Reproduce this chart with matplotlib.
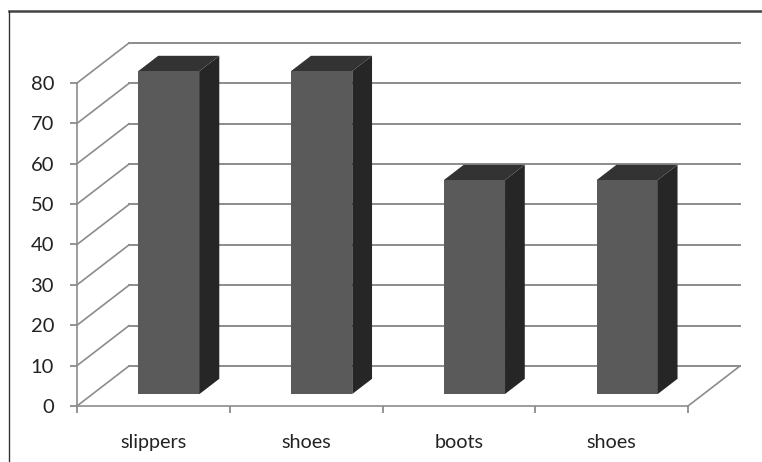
import matplotlib
matplotlib.use('Agg')
import matplotlib.pyplot as plt
from matplotlib.lines import Line2D

categories = ['slippers', 'shoes', 'boots', 'shoes']
values = [80, 80, 53, 53]
y_ticks = [0, 10, 20, 30, 40, 50, 60, 70, 80]

W, H = 762, 462
GRID = '#8c8c8c'
FRONT = '#5a5a5a'
SIDE = '#262626'
TOP = '#333333'
TEXT = '#222222'

# depth of the 3D box, in data units
DEPTH_X = 52 / 152.75
DEPTH_Y = 40 / 4.0375
BAR_W = 0.4
Z0, Z1 = 0.30, 0.68

plt.rcParams['font.family'] = ['Lato', 'DejaVu Sans']

fig = plt.figure(figsize=(W / 100, H / 100), dpi=100)
ax = fig.add_axes([77 / W, (H - 406) / H, (688 - 77) / W, (406 - 83) / H])
ax.set_xlim(0, len(categories))
ax.set_ylim(0, 80)
ax.patch.set_visible(False)


def shift(x, y, z):
    return x + z * DEPTH_X, y + z * DEPTH_Y


# back wall gridlines and left wall diagonals
for v in y_ticks:
    bx, by = shift(0, v, 1)
    ax.plot([0, bx], [v, by], color=GRID, lw=1.2, clip_on=False, zorder=1)
    ax.plot([bx, bx + len(categories)], [by, by], color=GRID, lw=1.4,
            clip_on=False, zorder=1)

# right edge of the floor
ax.plot([len(categories), len(categories) + DEPTH_X], [0, DEPTH_Y], color=GRID,
        lw=1.2, clip_on=False, zorder=1)

for i, val in enumerate(values):
    x0 = i + 0.5 - BAR_W / 2
    x1 = x0 + BAR_W
    fa, fb = shift(x0, 0, Z0), shift(x1, 0, Z0)
    ft_a, ft_b = shift(x0, val, Z0), shift(x1, val, Z0)
    bb, bt_b, bt_a = shift(x1, 0, Z1), shift(x1, val, Z1), shift(x0, val, Z1)
    ax.fill([fa[0], fb[0], ft_b[0], ft_a[0]], [fa[1], fb[1], ft_b[1], ft_a[1]],
            color=FRONT, lw=0, clip_on=False, zorder=3)
    ax.fill([fb[0], bb[0], bt_b[0], ft_b[0]], [fb[1], bb[1], bt_b[1], ft_b[1]],
            color=SIDE, lw=0, clip_on=False, zorder=3)
    ax.fill([ft_a[0], ft_b[0], bt_b[0], bt_a[0]], [ft_a[1], ft_b[1], bt_b[1], bt_a[1]],
            color=TOP, lw=0, clip_on=False, zorder=3)

for side in ['top', 'right']:
    ax.spines[side].set_visible(False)
for side in ['left', 'bottom']:
    ax.spines[side].set_color(GRID)
    ax.spines[side].set_linewidth(1.2)

ax.set_yticks(y_ticks)
ax.tick_params(axis='y', length=5, width=1.1, color='#777777', labelsize=14.5,
               labelcolor=TEXT, pad=11.5)
ax.set_xticks(range(len(categories) + 1))
ax.set_xticklabels([])
ax.set_xticks([i + 0.5 for i in range(len(categories))], minor=True)
ax.set_xticklabels(categories, minor=True)
ax.tick_params(axis='x', which='major', length=5, width=1.1, color='#777777')
ax.tick_params(axis='x', which='minor', length=0, labelsize=14.2,
               labelcolor=TEXT, pad=20.5)

# outer frame, only top and left edges show
fig.add_artist(Line2D([9 / W, 1], [1 - 11 / H, 1 - 11 / H], color='#444444', lw=1.8))
fig.add_artist(Line2D([9 / W, 9 / W], [0, 1 - 11 / H], color='#333333', lw=1.0))

fig.savefig('out.png', dpi=100)
